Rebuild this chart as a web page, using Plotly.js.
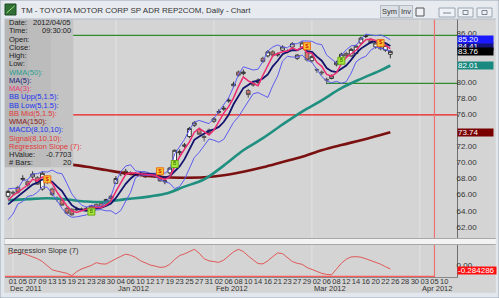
<!DOCTYPE html>
<html><head><meta charset="utf-8">
<script src="https://cdn.plot.ly/plotly-3.0.1.min.js"></script>
<style>html,body{margin:0;padding:0;background:#d4d4d4;overflow:hidden}#chart{width:499px;height:298px}</style>
</head><body><div id="chart"></div>
<script>
// ---------- DATA ----------
const dates = ['2011-11-30',
 '2011-12-01','2011-12-02','2011-12-05','2011-12-06','2011-12-07','2011-12-08','2011-12-09','2011-12-12','2011-12-13','2011-12-14','2011-12-15','2011-12-16','2011-12-19','2011-12-20','2011-12-21','2011-12-22','2011-12-23','2011-12-27','2011-12-28','2011-12-29','2011-12-30',
 '2012-01-03','2012-01-04','2012-01-05','2012-01-06','2012-01-09','2012-01-10','2012-01-11','2012-01-12','2012-01-13','2012-01-17','2012-01-18','2012-01-19','2012-01-20','2012-01-23','2012-01-24','2012-01-25','2012-01-26','2012-01-27','2012-01-30','2012-01-31',
 '2012-02-01','2012-02-02','2012-02-03','2012-02-06','2012-02-07','2012-02-08','2012-02-09','2012-02-10','2012-02-13','2012-02-14','2012-02-15','2012-02-16','2012-02-17','2012-02-21','2012-02-22','2012-02-23','2012-02-24','2012-02-27','2012-02-28','2012-02-29',
 '2012-03-01','2012-03-02','2012-03-05','2012-03-06','2012-03-07','2012-03-08','2012-03-09','2012-03-12','2012-03-13','2012-03-14','2012-03-15','2012-03-16','2012-03-19','2012-03-20','2012-03-21','2012-03-22','2012-03-23'];
const futureDates = ['2012-03-26','2012-03-27','2012-03-28','2012-03-29','2012-03-30','2012-04-02','2012-04-03','2012-04-04','2012-04-05','2012-04-09','2012-04-10'];

const openP  = [65.8,66.3,66.9,67.9,67.6,68.2,68.1,66.7,68.2,66.7,65.5,65.35,64.3,64.2,64.1,64.15,64.2,64.2,64.8,64.9,64.85,65.5,67.4,68.6,68.5,68.7,68.6,68.5,68.2,68.45,68.4,68.1,67.6,68.7,70.2,71.2,72.0,73.2,74.6,74.1,73.2,74.0,75.1,76.2,76.6,77.6,79.5,81.2,81.0,78.9,79.6,79.9,82.9,83.2,83.7,83.3,83.9,83.8,84.3,82.9,84.3,83.7,82.6,81.5,81.2,80.3,80.4,82.1,83.0,83.5,83.2,83.5,84.8,85.6,85.2,84.3,84.2,83.9,83.4];
const highP  = [66.6,66.5,67.1,68.4,67.8,68.9,68.3,68.9,68.4,66.9,65.8,65.5,64.5,64.3,64.5,64.4,64.5,64.7,64.9,65.0,65.5,66.0,68.3,68.9,69.2,68.9,68.8,68.9,68.7,68.6,68.5,68.4,67.9,69.4,71.6,71.6,72.4,74.4,75.1,74.3,73.4,74.2,75.6,76.6,77.0,78.0,80.0,81.4,81.5,79.1,80.0,80.4,83.1,83.9,83.9,83.6,84.5,84.0,84.9,83.4,85.0,84.0,83.3,81.7,81.4,80.5,80.9,82.6,83.6,83.7,84.2,84.6,85.6,85.9,85.4,84.9,84.4,84.6,83.9];
const lowP   = [65.5,65.9,66.1,67.7,67.0,68.0,67.2,66.5,67.3,65.8,65.1,64.6,63.6,63.4,64.0,64.0,64.1,64.0,64.2,64.3,64.7,65.4,67.3,68.3,68.4,68.4,68.3,68.4,68.1,68.2,68.1,67.6,67.3,68.5,70.0,70.9,71.8,73.0,74.4,73.4,72.6,73.4,74.9,76.0,76.4,77.4,79.3,80.6,80.8,78.0,79.4,79.7,82.3,83.0,83.1,83.1,83.7,83.5,84.1,82.7,84.1,82.5,82.4,81.1,80.8,79.7,80.3,81.9,82.8,83.0,83.1,83.4,84.6,85.4,84.7,84.1,83.9,83.7,82.9];
const closeP = [66.4,66.2,66.3,68.0,67.2,68.55,67.3,68.65,67.5,66.0,65.4,64.7,63.7,63.5,64.2,64.2,64.3,64.6,64.3,64.4,65.4,65.8,68.0,68.65,68.9,68.6,68.5,68.6,68.55,68.4,68.3,67.7,67.7,69.3,71.5,71.3,72.15,74.2,74.9,73.5,73.1,73.6,75.4,76.3,76.7,77.7,79.7,80.8,81.2,78.4,79.8,80.2,82.5,83.7,83.3,83.4,84.3,83.7,84.7,83.3,84.8,82.7,83.1,81.45,81.1,80.2,80.7,82.4,83.4,83.2,84.0,84.4,85.4,85.7,84.8,84.8,84.1,84.5,83.76];

const ma3 = [65.3,65.9,66.3,66.8,67.2,67.9,67.7,68.2,67.8,67.4,66.3,65.4,64.6,64.0,63.8,64.0,64.2,64.4,64.4,64.4,64.7,65.2,66.4,67.5,68.5,68.7,68.7,68.6,68.55,68.5,68.4,68.1,67.9,68.2,69.5,70.7,71.65,72.55,73.75,74.2,73.8,73.4,74.0,75.1,76.1,76.9,78.0,79.4,80.6,80.1,79.8,79.5,80.8,82.1,83.2,83.5,83.7,83.8,84.2,83.9,84.3,83.6,83.5,82.4,81.9,80.9,80.7,81.1,82.2,83.0,83.5,83.9,84.6,85.2,85.3,85.1,84.6,84.5,84.1];
const ma5 = [64.8,65.3,65.7,66.3,66.8,67.25,67.5,67.9,67.8,67.6,67.0,66.45,65.5,64.7,64.3,64.1,64.0,64.2,64.3,64.4,64.6,64.9,65.6,66.45,67.35,68.0,68.5,68.65,68.6,68.5,68.5,68.3,68.1,68.3,68.9,69.5,70.4,71.7,72.8,73.2,73.6,73.9,74.1,74.4,75.0,75.9,77.2,78.2,79.2,79.6,80.0,80.1,80.4,80.9,81.9,82.6,83.4,83.7,83.9,83.9,84.2,83.8,83.7,83.1,82.6,81.7,81.3,81.2,81.6,82.0,82.7,83.5,84.1,84.5,84.9,85.0,84.95,84.8,84.41];
const bbUpper = [66.7,66.8,66.75,67.75,67.85,68.6,68.6,68.85,68.8,69.05,68.7,68.6,67.4,66.1,65.35,64.7,64.45,64.7,64.55,64.55,65.2,65.8,67.6,68.85,69.55,69.7,68.95,68.85,68.85,68.65,68.65,68.8,68.65,69.15,71.05,72.0,72.85,74.05,75.0,75.2,75.0,74.8,75.45,76.25,77.15,78.0,79.35,80.85,81.85,81.6,81.45,81.55,82.5,83.8,84.3,84.55,84.3,84.2,84.7,84.7,85.05,85.05,85.0,84.7,84.6,83.3,82.8,82.3,83.3,83.95,84.45,84.5,85.25,85.9,85.8,85.7,85.8,85.55,85.2];
const bbLower = [62.9,63.6,64.85,65.15,65.8,65.9,66.3,67.0,66.9,66.15,65.25,64.3,63.55,63.2,63.25,63.4,63.5,63.6,64.1,64.15,64.0,64.0,63.6,64.05,65.15,66.3,68.1,68.45,68.4,68.4,68.3,67.85,67.6,67.4,66.75,67.0,67.9,69.35,70.6,71.25,72.15,72.9,72.75,72.5,72.85,73.85,74.95,75.65,76.6,77.55,78.5,78.65,78.35,78.05,79.5,80.7,82.55,83.15,83.05,83.05,83.3,82.65,82.4,81.45,80.65,80.1,79.85,80.05,79.8,80.0,81.05,82.45,82.9,83.15,83.9,84.3,84.15,84.0,83.8];
const regSlope = [0.78,0.88,0.91,0.85,0.72,0.58,0.45,0.25,-0.05,-0.35,-0.44,-0.52,-0.60,-0.77,-0.48,-0.28,-0.16,-0.03,0.17,0.08,0.07,0.28,0.45,0.62,0.78,0.70,0.55,0.31,0.15,0.0,-0.08,-0.17,-0.14,0.05,0.40,0.68,0.80,0.98,1.13,0.85,0.45,0.30,0.23,0.19,0.35,0.65,0.95,1.13,0.97,0.65,0.35,0.10,0.08,0.30,0.60,0.87,0.82,0.52,0.25,0.12,0.05,-0.18,-0.33,-0.45,-0.60,-0.68,-0.70,-0.30,0.12,0.42,0.58,0.60,0.56,0.45,0.33,0.20,0.06,-0.12,-0.284286];

const wmaDates = ['2011-11-30','2011-12-06','2011-12-12','2011-12-16','2011-12-22','2011-12-29','2012-01-05','2012-01-11','2012-01-18','2012-01-24','2012-01-30','2012-02-03','2012-02-09','2012-02-15','2012-02-22','2012-02-28','2012-03-05','2012-03-09','2012-03-15','2012-03-21','2012-03-23'];
const wma50  = [65.3,65.45,65.55,65.4,65.15,65.1,65.45,65.7,66.1,67.0,67.9,69.6,71.5,73.0,74.7,76.3,77.7,79.2,80.35,81.4,82.01];
const wma150 = [70.7,70.45,70.15,69.8,69.45,69.05,68.65,68.35,68.15,68.1,68.15,68.4,68.85,69.4,70.05,70.7,71.5,72.15,72.75,73.4,73.74];

const sellDates = ['2011-12-12','2012-01-17','2012-02-29','2012-03-21'];
const sellValues = [67.9,68.9,84.4,84.8];
const buyDates = ['2011-12-23','2012-01-20','2012-03-09'];
const buyValues = [63.9,69.8,82.6];

const tickDates = ['2011-12-01','2011-12-05','2011-12-07','2011-12-09','2011-12-13','2011-12-15','2011-12-19','2011-12-21','2011-12-23','2011-12-28','2011-12-30',
 '2012-01-04','2012-01-06','2012-01-10','2012-01-12','2012-01-17','2012-01-19','2012-01-23','2012-01-25','2012-01-27','2012-01-31',
 '2012-02-02','2012-02-06','2012-02-08','2012-02-10','2012-02-14','2012-02-16','2012-02-21','2012-02-23','2012-02-27','2012-02-29',
 '2012-03-02','2012-03-06','2012-03-08','2012-03-12','2012-03-14','2012-03-16','2012-03-20','2012-03-22','2012-03-26','2012-03-28','2012-03-30',
 '2012-04-03','2012-04-05','2012-04-10'];
const monthLabels = ['Dec 2011','Jan 2012','Feb 2012','Mar 2012','Apr 2012'];
const monthLabelDates = ['2011-12-01','2012-01-04','2012-02-02','2012-03-02','2012-04-03'];
const monthStarts = ['2011-12-01','2012-01-03','2012-02-01','2012-03-01','2012-04-02'];
const priceTicks = [62,64,66,68,70,72,76,78,80,86];
const levelResistance = 85.75, levelSupport = 79.8, levelRed = 75.9;
const supportStart = '2012-03-06';
const cursorDate = '2012-04-05';

const valueBoxes = [
  {v: 84.41, t: '84.41', c: '#14147a'},
  {v: 85.20, t: '85.20', c: '#1a1aff'},
  {v: 83.76, t: '83.76', c: '#000000'},
  {v: 82.01, t: '82.01', c: '#1a8a80'},
  {v: 73.74, t: '73.74', c: '#7a0000'}
];
const legendRows = [
  ['Date:', '#222', '2012/04/05'], ['Time:', '#222', '09:30:00'], ['Open:', '#222', ''], ['Close:', '#222', ''],
  ['High:', '#222', ''], ['Low:', '#222', ''], ['WMA(50):', '#2a9d90', ''], ['MA(5):', '#1c1c78', ''],
  ['MA(3):', '#e8407a', ''], ['BB Upp(5,1.5):', '#2233ee', ''], ['BB Low(5,1.5):', '#2233ee', ''],
  ['BB Mid(5,1.5):', '#e03a3a', ''], ['WMA(150):', '#8a1a1a', ''], ['MACD(8,10,10):', '#2233ee', ''],
  ['Signal(8,10,10):', '#e03a3a', ''], ['Regression Slope (7):', '#e03a3a', ''], ['HValue:', '#222', '-0.7703'], ['# Bars:', '#222', '20']
];

// ---------- LAYOUT HELPERS ----------
const W = 499, H = 298;
const PX = x => x / W, PY = y => 1 - y / H;
const FONT = 'Liberation Sans, Arial, sans-serif';
const xRange = [-0.63, 91.6];
const allDates = dates.concat(futureDates);

const traces = [
  {type: 'scatter', x: allDates, y: allDates.map(() => null), mode: 'lines', hoverinfo: 'skip', showlegend: false},
  {type: 'candlestick', x: dates, open: openP, high: highP, low: lowP, close: closeP,
   increasing: {line: {color: '#333333', width: 1}, fillcolor: '#ffffff'},
   decreasing: {line: {color: '#555555', width: 1}, fillcolor: '#e27470'},
   whiskerwidth: 0, hoverinfo: 'skip', xaxis: 'x', yaxis: 'y'},
  {type: 'scatter', mode: 'lines', x: wmaDates, y: wma150, line: {color: '#7a1010', width: 2.6, shape: 'spline'}, xaxis: 'x', yaxis: 'y'},
  {type: 'scatter', mode: 'lines', x: wmaDates, y: wma50, line: {color: '#1f8f80', width: 2.6, shape: 'spline'}, xaxis: 'x', yaxis: 'y'},
  {type: 'scatter', mode: 'lines', x: dates, y: bbUpper, line: {color: '#5c5cf0', width: 1}, xaxis: 'x', yaxis: 'y'},
  {type: 'scatter', mode: 'lines', x: dates, y: bbLower, line: {color: '#5c5cf0', width: 1}, xaxis: 'x', yaxis: 'y'},
  {type: 'scatter', mode: 'lines', x: dates, y: ma5, line: {color: '#14146e', width: 1.8}, xaxis: 'x', yaxis: 'y'},
  {type: 'scatter', mode: 'lines', x: dates, y: ma3, line: {color: '#ee2a72', width: 1.5}, xaxis: 'x', yaxis: 'y'},
  {type: 'scatter', mode: 'markers+text', x: sellDates, y: sellValues, text: sellDates.map(() => '$'), textposition: 'middle center',
   textfont: {size: 6, color: '#d00000', family: FONT},
   marker: {symbol: 'square', size: 7, color: '#f7c531', line: {color: '#e87018', width: 1}}, xaxis: 'x', yaxis: 'y'},
  {type: 'scatter', mode: 'markers+text', x: buyDates, y: buyValues, text: buyDates.map(() => 'B'), textposition: 'middle center',
   textfont: {size: 5, color: '#2d6b00', family: FONT},
   marker: {symbol: 'square', size: 7, color: '#a8e83a', line: {color: '#6aa81a', width: 1}}, xaxis: 'x', yaxis: 'y'},
  {type: 'scatter', mode: 'lines', x: dates, y: regSlope, line: {color: '#e05858', width: 1}, xaxis: 'x', yaxis: 'y2'}
];

const shapes = [];
// month gridlines
monthStarts.forEach(d => shapes.push({type: 'line', xref: 'x', yref: 'paper', x0: d, x1: d, y0: PY(277), y1: PY(19), line: {color: '#e2e2e2', width: 1}, layer: 'below'}));
// level lines
shapes.push({type: 'line', xref: 'paper', yref: 'y', x0: PX(73), x1: PX(457), y0: levelResistance, y1: levelResistance, line: {color: '#2e8b2e', width: 1.2}, layer: 'below'});
shapes.push({type: 'line', xref: 'x', yref: 'y', x0: supportStart, x1: xRange[1], y0: levelSupport, y1: levelSupport, line: {color: '#2e8b2e', width: 1.2}, layer: 'below'});
shapes.push({type: 'line', xref: 'paper', yref: 'y', x0: PX(73), x1: PX(457), y0: levelRed, y1: levelRed, line: {color: '#ee1c1c', width: 1.2}, layer: 'below'});
// cursor vertical line
shapes.push({type: 'line', xref: 'x', yref: 'paper', x0: cursorDate, x1: cursorDate, y0: PY(277), y1: PY(19), line: {color: '#ec7272', width: 1.2}, layer: 'above'});
// bottom red line of lower panel
shapes.push({type: 'line', xref: 'paper', yref: 'y2', x0: PX(5), x1: PX(435), y0: -0.84, y1: -0.84, line: {color: '#ff5a5a', width: 2}, layer: 'above'});
// legend box (gradient-like bands)
[['#b6b6b6', 5, 28], ['#bcbcbc', 28, 51], ['#c3c3c3', 51, 73]].forEach(b => shapes.push({type: 'rect', xref: 'paper', yref: 'paper',
  x0: PX(b[1]), x1: PX(b[2]), y0: PY(167), y1: PY(19.5), fillcolor: b[0], line: {color: b[0], width: 0.5}, layer: 'above'}));
// panel separator
shapes.push({type: 'rect', xref: 'paper', yref: 'paper', x0: PX(4), x1: PX(497), y0: PY(244.5), y1: PY(238.5), fillcolor: '#f3f3f3', line: {color: '#a8a8a8', width: 1}, layer: 'above'});
// window frame
shapes.push({type: 'rect', xref: 'paper', yref: 'paper', x0: 0, x1: 1, y0: PY(19), y1: 1, fillcolor: '#e7ebf0', line: {color: '#e7ebf0', width: 0.5}, layer: 'above'});
shapes.push({type: 'line', xref: 'paper', yref: 'paper', x0: 0, x1: 1, y0: PY(19), y1: PY(19), line: {color: '#b0b8c2', width: 1}, layer: 'above'});
shapes.push({type: 'rect', xref: 'paper', yref: 'paper', x0: 0, x1: PX(4), y0: 0, y1: 1, fillcolor: '#e2e7ed', line: {color: '#e2e7ed', width: 0.5}, layer: 'above'});
shapes.push({type: 'rect', xref: 'paper', yref: 'paper', x0: PX(496), x1: 1, y0: 0, y1: 1, fillcolor: '#e2e7ed', line: {color: '#e2e7ed', width: 0.5}, layer: 'above'});
shapes.push({type: 'rect', xref: 'paper', yref: 'paper', x0: 0, x1: 1, y0: 0, y1: PY(293), fillcolor: '#e2e7ed', line: {color: '#e2e7ed', width: 0.5}, layer: 'above'});
shapes.push({type: 'rect', xref: 'paper', yref: 'paper', x0: 0, x1: 1, y0: 0, y1: 1, fillcolor: 'rgba(0,0,0,0)', line: {color: '#9aa6b2', width: 1}, layer: 'above'});
// title icon
shapes.push({type: 'rect', xref: 'paper', yref: 'paper', x0: PX(5), x1: PX(16), y0: PY(15), y1: PY(4), fillcolor: '#2f6e35', line: {color: '#1d4a22', width: 1}, layer: 'above'});
shapes.push({type: 'line', xref: 'paper', yref: 'paper', x0: PX(6.5), x1: PX(14.5), y0: PY(13), y1: PY(6), line: {color: '#9fe37a', width: 1}, layer: 'above'});
// window buttons
[[439, 455], [458, 473], [477, 492]].forEach(b => shapes.push({type: 'rect', xref: 'paper', yref: 'paper', x0: PX(b[0]), x1: PX(b[1]), y0: PY(17), y1: PY(8), fillcolor: '#eef1f5', line: {color: '#9aa4ae', width: 1}, layer: 'above'}));
shapes.push({type: 'line', xref: 'paper', yref: 'paper', x0: PX(443), x1: PX(451), y0: PY(13), y1: PY(13), line: {color: '#7a8590', width: 1}, layer: 'above'});
shapes.push({type: 'rect', xref: 'paper', yref: 'paper', x0: PX(463), x1: PX(468), y0: PY(14.5), y1: PY(10.5), fillcolor: 'rgba(0,0,0,0)', line: {color: '#7a8590', width: 1}, layer: 'above'});
shapes.push({type: 'rect', xref: 'paper', yref: 'paper', x0: PX(482), x1: PX(487), y0: PY(14.5), y1: PY(10.5), fillcolor: 'rgba(0,0,0,0)', line: {color: '#7a8590', width: 1}, layer: 'above'});
shapes.push({type: 'rect', xref: 'paper', yref: 'paper', x0: PX(416), x1: PX(424), y0: PY(16), y1: PY(8), fillcolor: '#eef1f5', line: {color: '#555', width: 1}, layer: 'above'});

const annotations = [];
annotations.push({xref: 'paper', yref: 'paper', x: PX(19), y: PY(10.5), xanchor: 'left', yanchor: 'middle', showarrow: false,
  text: 'TM - TOYOTA MOTOR CORP SP ADR REP2COM, Daily - Chart', font: {family: FONT, size: 8, color: '#333'}});
annotations.push({xref: 'paper', yref: 'paper', x: PX(389), y: PY(12), xanchor: 'center', yanchor: 'middle', showarrow: false, text: 'Sym',
  font: {family: FONT, size: 7.5, color: '#333'}, bgcolor: '#dde1e6', bordercolor: '#b5bcc4', borderwidth: 1, borderpad: 1});
annotations.push({xref: 'paper', yref: 'paper', x: PX(406), y: PY(12), xanchor: 'center', yanchor: 'middle', showarrow: false, text: 'Inv',
  font: {family: FONT, size: 7.5, color: '#333'}, bgcolor: '#dde1e6', bordercolor: '#b5bcc4', borderwidth: 1, borderpad: 1});
legendRows.forEach((r, k) => {
  const yy = PY(22.6 + 8.25 * k);
  annotations.push({xref: 'paper', yref: 'paper', x: PX(6.5), y: yy, xanchor: 'left', yanchor: 'middle', showarrow: false, text: r[0], font: {family: FONT, size: 7.5, color: r[1]}});
  if (r[2]) annotations.push({xref: 'paper', yref: 'paper', x: PX(72.5), y: yy, xanchor: 'right', yanchor: 'middle', showarrow: false, text: r[2], font: {family: FONT, size: 7.5, color: '#222'}});
});
monthLabels.forEach((m, k) => annotations.push({xref: 'x', yref: 'paper', x: monthLabelDates[k], y: PY(288.5), xanchor: 'left', yanchor: 'middle', xshift: -5, showarrow: false,
  text: m, font: {family: FONT, size: 7.5, color: '#333'}}));
annotations.push({xref: 'paper', yref: 'paper', x: PX(6), y: PY(250.5), xanchor: 'left', yanchor: 'middle', showarrow: false, text: 'Regression Slope (7)', font: {family: FONT, size: 7.5, color: '#333'}});
valueBoxes.forEach(b => annotations.push({xref: 'paper', yref: 'y', x: PX(457), y: b.v, xanchor: 'left', yanchor: 'middle', showarrow: false,
  text: b.t, align: 'left', width: 35, height: 7, bgcolor: b.c, borderpad: 0, font: {family: FONT, size: 8, color: '#ffffff'}}));
annotations.push({xref: 'paper', yref: 'y2', x: PX(457), y: -0.4, xanchor: 'left', yanchor: 'middle', showarrow: false,
  text: '-0.284286', align: 'left', width: 38, height: 7, bgcolor: '#ff1010', borderpad: 0, font: {family: FONT, size: 8, color: '#ffffff'}});

const layout = {
  width: W, height: H, margin: {l: 0, r: 0, t: 0, b: 0},
  paper_bgcolor: '#d4d4d4', plot_bgcolor: '#d4d4d4', showlegend: false,
  font: {family: FONT, size: 8, color: '#333'},
  boxgap: 0.25, boxgroupgap: 0,
  xaxis: {type: 'category', categoryorder: 'array', categoryarray: allDates, range: xRange, domain: [PX(5), PX(457)],
    anchor: 'y2', tickmode: 'array', tickvals: tickDates, ticktext: tickDates.map(d => d.slice(8)), tickangle: 0,
    tickfont: {family: FONT, size: 7.5, color: '#333'}, showgrid: false, zeroline: false, showline: true, linecolor: '#888', ticks: '', ticklen: 0,
    ticklabelstandoff: -3, rangeslider: {visible: false}, fixedrange: true},
  yaxis: {domain: [PY(238), PY(19)], range: [60.63, 87.77], side: 'right', anchor: 'x', tickmode: 'array', tickvals: priceTicks,
    ticktext: priceTicks.map(v => v.toFixed(2)), tickfont: {family: FONT, size: 8, color: '#333'}, showgrid: false, zeroline: false,
    showline: true, linecolor: '#6e6e6e', ticks: '', ticklen: 0, ticklabelstandoff: -3, fixedrange: true},
  yaxis2: {domain: [PY(277), PY(245)], range: [-0.863, 1.439], side: 'right', anchor: 'x', tickmode: 'array', tickvals: [0], ticktext: ['0.00'],
    tickfont: {family: FONT, size: 8, color: '#333'}, showgrid: false, zeroline: false, showline: true, linecolor: '#6e6e6e', ticks: '', ticklen: 0,
    ticklabelstandoff: -3, fixedrange: true},
  shapes: shapes, annotations: annotations
};

Plotly.newPlot('chart', traces, layout, {staticPlot: true, displayModeBar: false});
</script></body></html>
